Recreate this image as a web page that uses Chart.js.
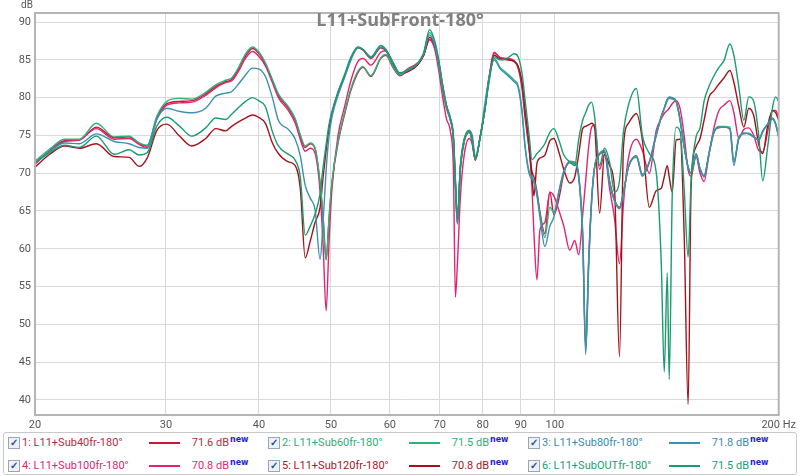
<!DOCTYPE html>
<html>
<head>
<meta charset="utf-8">
<script src="https://cdn.jsdelivr.net/npm/chart.js@4.4.1/dist/chart.umd.min.js"></script>
<style>
  html, body { margin:0; padding:0; background:#fff; }
  #wrap { position:relative; width:800px; height:476px; overflow:hidden; font-family:Roboto, "Open Sans", sans-serif; }
  #c { position:absolute; left:0; top:0; }
  #title { position:absolute; left:0; width:800px; top:8px; text-align:center; font-family:"Open Sans", sans-serif; font-weight:700; font-size:18px; color:#808080; line-height:22px; }
  #dblab { position:absolute; left:21px; top:-1px; font-size:10px; color:#555; }
  #legend { position:absolute; left:3px; top:432px; width:792px; height:41px; border:1px solid #c9c9c9; border-radius:3px; background:#fff; }
  .cb { position:absolute; width:10px; height:10px; border:1px solid #9aa5b5; background:#eef2f8; font-size:10px; line-height:10px; text-align:center; color:#2a4f9a; font-weight:bold; }
  .nm { position:absolute; font-size:11px; line-height:13px; white-space:nowrap; }
  .ln { position:absolute; width:31px; height:2px; }
  .lv { position:absolute; font-size:11px; line-height:13px; text-align:right; width:50px; white-space:nowrap; }
  .nw { position:absolute; font-size:8px; line-height:9px; font-weight:bold; color:#1f1fd6; font-family:"DejaVu Sans", sans-serif; }
</style>
</head>
<body>
<div id="wrap">
  <canvas id="c" width="800" height="476"></canvas>
  <div id="title">L11+SubFront-180°</div>
  <div id="dblab">dB</div>
  <div id="legend"></div>
</div>
<script>
// ---- data ----
const freqs = [20.0, 20.93, 21.92, 22.95, 24.18, 25.56, 26.77, 27.61, 28.30, 29.18,
  30.09, 31.23, 32.50, 33.93, 35.00, 36.09, 36.76, 37.56, 38.38, 39.22,
  39.95, 40.82, 41.71, 42.49, 43.82, 44.77, 45.47, 46.17, 46.89, 47.61,
  48.35, 48.80, 49.26, 49.71, 50.17, 51.11, 52.22, 53.20, 54.36, 55.20,
  56.58, 58.35, 59.25, 60.73, 61.86, 63.40, 65.39, 66.61, 67.85, 68.90,
  69.75, 70.62, 71.49, 72.38, 73.05, 73.50, 73.96, 74.64, 75.57, 76.74,
  77.45, 78.17, 79.38, 80.37, 81.61, 82.88, 84.43, 86.27, 88.15, 89.24,
  90.34, 91.18, 92.31, 93.17, 93.74, 94.61, 95.49, 96.97, 98.48, 99.70,
  101.25, 102.82, 104.73, 106.36, 107.68, 109.01, 110.02, 111.04, 112.07, 113.11,
  114.87, 116.65, 118.46, 120.30, 122.17, 123.68, 125.60, 128.73, 131.13, 133.99,
  136.91, 139.03, 140.32, 141.63, 142.50, 143.82, 145.61, 147.41, 149.24, 151.09,
  152.49, 154.85, 156.77, 158.72, 161.18, 163.68, 166.22, 168.80, 171.95, 174.08,
  176.78, 179.52, 182.31, 185.13, 188.01, 190.34, 193.29, 196.29, 198.11, 200.0];

const sub40 = [71.3, 73.0, 74.3, 74.4, 76.1, 74.7, 74.8, 73.9, 73.6, 77.4,
  79.2, 79.5, 79.6, 80.5, 81.5, 82.1, 82.4, 83.8, 85.5, 86.5,
  85.9, 84.4, 82.2, 80.3, 78.6, 77.0, 74.9, 73.4, 73.9, 73.2,
  68.5, 64.0, 58.6, 64.0, 68.8, 74.0, 78.0, 81.0, 83.3, 84.0,
  82.8, 85.2, 85.6, 83.8, 82.9, 83.6, 84.4, 85.6, 87.7, 86.8,
  84.6, 81.3, 78.6, 77.0, 74.5, 68.5, 63.3, 70.5, 74.2, 75.4,
  74.0, 71.7, 74.8, 77.9, 82.7, 85.9, 85.3, 85.1, 84.8, 83.9,
  81.2, 77.4, 73.3, 70.2, 69.5, 67.6, 64.9, 62.0, 67.5, 64.5,
  66.6, 70.0, 71.4, 71.3, 69.5, 62.0, 47.0, 58.5, 66.5, 70.8,
  72.5, 72.8, 69.0, 66.5, 65.5, 67.5, 70.8, 72.3, 69.8, 71.5,
  75.0, 77.5, 78.6, 79.7, 80.0, 79.9, 79.5, 77.0, 73.5, 70.8,
  70.0, 72.4, 70.5, 69.6, 72.6, 75.4, 76.1, 76.1, 75.9, 71.5,
  74.6, 75.3, 75.2, 74.8, 74.4, 75.5, 76.5, 77.2, 76.5, 74.8];

const sub60 = [71.6, 73.2, 74.5, 74.5, 76.6, 74.8, 74.9, 74.0, 73.7, 77.6,
  79.5, 79.9, 79.8, 80.7, 81.7, 82.3, 82.6, 84.0, 85.8, 86.7,
  86.1, 84.6, 82.4, 80.5, 78.8, 77.2, 75.1, 73.6, 74.0, 73.3,
  68.8, 64.3, 58.5, 64.2, 69.0, 74.2, 78.2, 81.2, 83.5, 84.1,
  82.9, 85.3, 85.7, 83.9, 83.0, 83.7, 84.5, 85.8, 88.6, 87.4,
  84.8, 81.5, 78.8, 77.0, 74.6, 68.6, 63.4, 70.6, 74.3, 75.5,
  74.2, 71.8, 74.9, 78.0, 82.6, 85.2, 84.0, 83.2, 82.3, 81.6,
  78.4, 73.8, 70.3, 69.5, 69.0, 67.3, 64.6, 61.5, 65.5, 64.8,
  67.5, 70.2, 71.6, 71.5, 69.8, 62.0, 46.5, 58.0, 66.5, 70.8,
  72.6, 72.9, 68.8, 66.4, 65.4, 67.4, 70.9, 72.2, 69.9, 71.5,
  75.1, 77.4, 78.5, 79.6, 79.9, 79.8, 79.4, 77.0, 73.5, 70.8,
  70.0, 72.5, 70.6, 69.7, 72.6, 75.5, 76.2, 76.2, 76.1, 71.5,
  74.7, 75.3, 75.2, 74.8, 74.4, 75.5, 76.5, 77.2, 76.5, 74.8];

const sub80 = [71.4, 72.9, 74.0, 73.9, 75.2, 74.2, 73.9, 73.4, 73.3, 77.2,
  78.6, 78.2, 78.0, 78.6, 80.2, 80.6, 80.8, 81.8, 83.0, 83.9,
  83.8, 82.8, 80.0, 77.0, 75.8, 74.5, 72.3, 68.4, 66.7, 65.1,
  58.6, 63.6, 70.4, 75.0, 77.5, 80.3, 82.8, 85.0, 86.6, 86.4,
  85.3, 86.7, 86.3, 84.4, 83.2, 83.6, 84.5, 85.8, 88.3, 87.0,
  84.6, 81.4, 78.8, 77.0, 74.6, 68.4, 63.3, 70.6, 74.5, 75.6,
  75.0, 72.2, 74.8, 78.6, 82.8, 85.0, 83.8, 83.0, 82.1, 81.4,
  78.0, 73.5, 70.0, 69.2, 68.8, 67.0, 64.2, 60.3, 63.0, 64.2,
  67.6, 70.3, 71.5, 71.2, 69.5, 61.0, 46.0, 57.5, 66.2, 70.8,
  72.6, 73.0, 68.7, 66.3, 65.3, 67.3, 70.8, 72.1, 69.6, 71.4,
  75.3, 77.5, 78.6, 79.8, 80.1, 80.0, 79.5, 77.0, 73.6, 70.8,
  70.0, 72.6, 70.6, 69.5, 72.6, 75.5, 76.0, 76.1, 75.8, 71.0,
  74.8, 75.2, 75.3, 74.8, 74.4, 75.6, 76.5, 77.3, 76.5, 74.8];

const sub100 = [71.2, 72.9, 74.2, 74.4, 75.9, 74.5, 74.6, 73.8, 73.4, 77.2,
  79.0, 79.3, 79.4, 80.3, 81.3, 82.0, 82.2, 83.5, 85.2, 86.1,
  85.5, 84.2, 82.0, 80.0, 78.3, 76.6, 74.5, 72.9, 73.3, 72.6,
  67.5, 60.5, 51.8, 61.0, 68.0, 75.0, 79.0, 82.3, 84.8, 85.2,
  84.3, 86.0, 86.2, 84.2, 83.1, 83.8, 84.6, 85.6, 87.7, 86.5,
  83.8, 80.2, 77.2, 75.5, 70.5, 53.6, 58.0, 66.8, 72.6, 74.6,
  73.8, 71.9, 74.8, 77.9, 82.8, 86.0, 85.3, 85.2, 84.9, 84.1,
  81.8, 78.0, 73.5, 68.0, 62.0, 55.9, 62.5, 63.5, 67.5, 67.0,
  65.1, 63.0, 59.8, 61.1, 59.2, 64.5, 69.0, 73.5, 76.1, 76.4,
  70.5, 72.5, 68.0, 64.0, 58.0, 66.0, 72.0, 74.5, 73.0, 70.0,
  75.7, 77.2, 77.9, 78.3, 78.6, 79.2, 79.6, 78.5, 75.0, 70.4,
  69.6, 72.2, 70.0, 68.9, 72.5, 76.0, 78.3, 79.0, 79.6, 78.0,
  74.6, 75.8, 76.0, 75.0, 73.0, 72.8, 75.5, 78.3, 78.3, 77.4];

const sub120 = [70.8, 72.5, 73.6, 73.3, 73.9, 72.2, 72.1, 70.9, 72.0, 75.7,
  76.5, 75.0, 73.6, 74.6, 75.9, 75.6, 76.2, 76.8, 77.3, 77.7,
  77.4, 76.6, 74.0, 72.6, 71.5, 71.0, 68.0, 58.8, 61.0, 63.5,
  65.5, 69.5, 73.0, 76.0, 78.0, 80.6, 83.0, 85.2, 86.6, 86.3,
  85.2, 86.6, 86.2, 84.3, 83.1, 83.4, 84.3, 85.6, 88.0, 87.0,
  85.0, 81.8, 79.0, 77.2, 74.8, 69.0, 63.8, 70.8, 74.5, 75.6,
  74.3, 71.8, 74.8, 77.9, 82.5, 85.6, 85.1, 85.0, 84.8, 84.2,
  82.0, 78.5, 74.0, 69.5, 67.0, 71.3, 72.0, 72.4, 74.3, 74.6,
  72.8, 70.5, 68.7, 69.5, 72.5, 75.9, 76.2, 76.4, 76.6, 76.0,
  64.7, 72.5, 71.0, 68.0, 45.7, 73.5, 76.6, 77.9, 74.4, 65.5,
  67.7, 68.0, 69.5, 71.0, 69.5, 67.5, 74.4, 74.5, 62.0, 39.4,
  68.2, 73.5, 74.6, 77.0, 80.1, 80.9, 81.8, 82.6, 83.6, 82.0,
  78.8, 76.1, 78.6, 77.6, 73.8, 72.6, 76.3, 78.3, 78.0, 77.0];

const subOut = [71.4, 72.7, 73.7, 73.4, 74.9, 72.5, 73.1, 72.4, 72.7, 76.3,
  77.4, 76.3, 74.9, 76.0, 77.3, 77.1, 77.8, 78.7, 79.5, 80.0,
  79.6, 78.8, 75.5, 73.6, 72.5, 71.7, 69.5, 61.8, 63.0, 64.6,
  67.3, 70.8, 73.8, 76.5, 78.2, 80.8, 83.2, 85.4, 86.7, 86.4,
  85.4, 86.9, 86.4, 84.5, 83.3, 83.6, 84.5, 85.9, 89.0, 87.6,
  85.2, 81.8, 79.0, 77.3, 74.9, 69.2, 64.0, 71.0, 74.6, 75.7,
  74.4, 71.9, 74.9, 77.8, 82.2, 85.4, 85.0, 85.2, 85.8, 85.4,
  83.2, 79.8, 75.2, 71.8, 72.0, 72.6, 73.0, 73.9, 75.4, 75.9,
  74.4, 72.4, 71.5, 71.0, 74.5, 77.0, 78.0, 79.0, 79.4, 77.5,
  71.0, 73.3, 71.5, 67.5, 69.0, 75.5, 79.0, 81.2, 75.0, 72.6,
  70.0, 58.1, 43.7, 56.8, 42.7, 66.9, 76.1, 75.5, 68.0, 58.9,
  69.1, 74.8, 76.0, 79.5, 81.5, 82.9, 84.0, 84.9, 87.1, 85.6,
  81.4, 77.0, 80.1, 79.5, 75.0, 69.0, 73.5, 78.8, 80.1, 79.5];

const xTicks = [20, 30, 40, 50, 60, 70, 80, 90, 100, 200];
const yTicks = [40, 45, 50, 55, 60, 65, 70, 75, 80, 85, 90];
const seriesNames = ['1: L11+Sub40fr-180°', '2: L11+Sub60fr-180°', '3: L11+Sub80fr-180°',
                     '4: L11+Sub100fr-180°', '5: L11+Sub120fr-180°', '6: L11+SubOUTfr-180°'];
const seriesLevels = ['71.6 dB', '71.5 dB', '71.8 dB', '70.8 dB', '70.8 dB', '71.5 dB'];

// ---- styling ----
const seriesData = [sub40, sub60, sub80, sub100, sub120, subOut];
const colors = ['#c41a38', '#2fb27a', '#3c8fb4', '#e2236f', '#a3121a', '#1a9b70'];
const textColors = ['#c0283f', '#2fae76', '#3b8ab0', '#d92a6e', '#a01a1f', '#1f9c74'];
const drawOrder = [6, 3, 2, 5, 4, 1];

const framePlugin = {
  id: 'frame',
  afterDatasetsDraw(chart) {
    const a = chart.chartArea, c = chart.ctx;
    c.save();
    c.strokeStyle = '#b4b4b4';
    c.lineWidth = 2;
    c.strokeRect(a.left, a.top, a.right - a.left, a.bottom - a.top);
    c.restore();
  }
};

new Chart(document.getElementById('c').getContext('2d'), {
  type: 'line',
  data: {
    datasets: seriesData.map((vals, i) => ({
      label: seriesNames[i],
      data: freqs.map((f, j) => ({ x: f, y: vals[j] })),
      borderColor: colors[i],
      borderWidth: 1.4,
      pointRadius: 0,
      fill: false,
      cubicInterpolationMode: 'monotone',
      order: drawOrder[i]
    }))
  },
  options: {
    responsive: false,
    animation: false,
    devicePixelRatio: 1,
    layout: { padding: { left: 0, right: 17, top: 13, bottom: 41 }, autoPadding: false },
    plugins: { legend: { display: false }, tooltip: { enabled: false }, title: { display: false } },
    scales: {
      x: {
        type: 'logarithmic', min: 20, max: 200,
        afterBuildTicks: s => { s.ticks = xTicks.map(v => ({ value: v })); },
        afterFit: s => { s.height = 20; },
        ticks: {
          autoSkip: false, maxRotation: 0, minRotation: 0, padding: 4, color: '#555',
          font: { family: 'Roboto', size: 11 },
          callback: v => (v === 200 ? '200 Hz' : String(v))
        },
        grid: { color: '#d9d9d9', drawTicks: false, lineWidth: 1 },
        border: { display: false }
      },
      y: {
        min: 38, max: 91.2,
        afterBuildTicks: s => { s.ticks = yTicks.map(v => ({ value: v })); },
        afterFit: s => { s.width = 35; },
        ticks: { padding: 4, color: '#555', font: { family: 'Roboto', size: 11 } },
        grid: { color: '#d9d9d9', drawTicks: false, lineWidth: 1 },
        border: { display: false }
      }
    }
  },
  plugins: [framePlugin]
});

// ---- legend ----
const leg = document.getElementById('legend');
const colX = [4, 264, 524];
const rowY = [10, 33];
seriesNames.forEach((name, i) => {
  const r = Math.floor(i / 3), c = i % 3;
  const x0 = colX[c], yc = rowY[r];
  const cb = document.createElement('div');
  cb.className = 'cb'; cb.textContent = '✓';
  cb.style.left = x0 + 'px'; cb.style.top = (yc - 6) + 'px';
  leg.appendChild(cb);
  const nm = document.createElement('div');
  nm.className = 'nm'; nm.textContent = name; nm.style.color = textColors[i];
  nm.style.left = (x0 + 14) + 'px'; nm.style.top = (yc - 7) + 'px';
  leg.appendChild(nm);
  const ln = document.createElement('div');
  ln.className = 'ln'; ln.style.background = colors[i];
  ln.style.left = (x0 + 141) + 'px'; ln.style.top = (yc - 1) + 'px';
  leg.appendChild(ln);
  const lv = document.createElement('div');
  lv.className = 'lv'; lv.textContent = seriesLevels[i]; lv.style.color = textColors[i];
  lv.style.left = (x0 + 171) + 'px'; lv.style.top = (yc - 7) + 'px';
  leg.appendChild(lv);
  const nw = document.createElement('div');
  nw.className = 'nw'; nw.textContent = 'new';
  nw.style.left = (x0 + 222) + 'px'; nw.style.top = (yc - 8) + 'px';
  leg.appendChild(nw);
});
</script>
</body>
</html>
